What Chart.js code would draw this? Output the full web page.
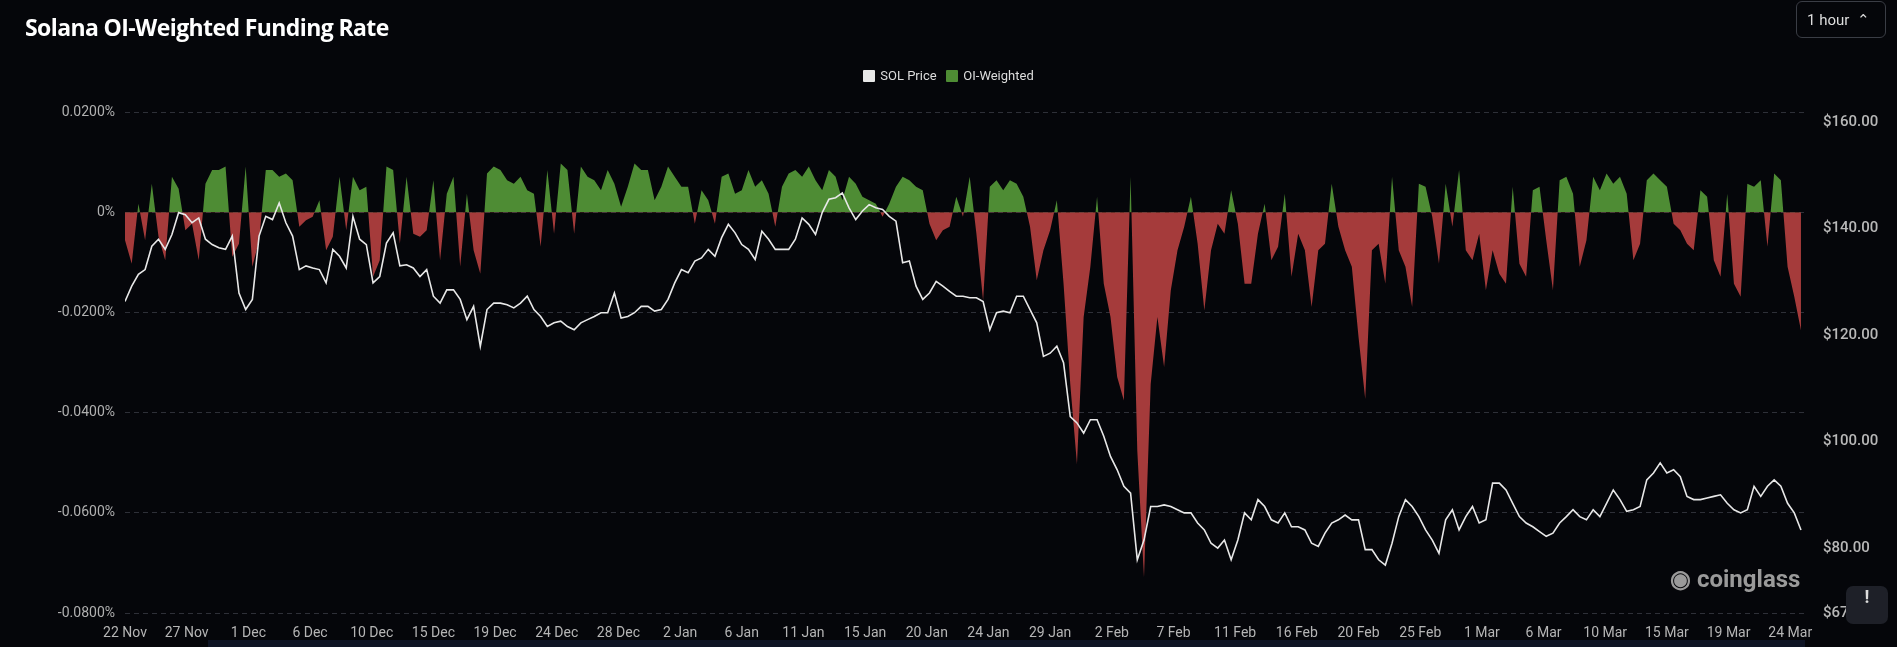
<!DOCTYPE html>
<html><head><meta charset="utf-8">
<script src="https://cdn.jsdelivr.net/npm/chart.js@4/dist/chart.umd.min.js"></script>
<style>
html,body{margin:0;padding:0;background:#05060a;width:1897px;height:647px;overflow:hidden;font-family:Roboto,sans-serif}
#wrap{position:absolute;left:0;top:0;width:1897px;height:647px}
#title{position:absolute;left:25px;top:11px;color:#fff;font:bold 23px 'Open Sans',sans-serif;letter-spacing:-0.6px}
#legend{position:absolute;top:68px;left:0;width:1897px;text-align:center;color:#ddd;font:13px Roboto,sans-serif}
#legend span.b{display:inline-block;width:12px;height:12px;vertical-align:-2px;margin-right:5px;border-radius:1px}
#sel{position:absolute;left:1796px;top:1px;width:90px;height:37px;border:1px solid #3a3d45;border-radius:6px;color:#ddd;font:15px Roboto,sans-serif;line-height:37px;box-sizing:border-box;padding-left:10px}
#wm{position:absolute;left:1670px;top:565px;color:#9a9a9a;font:bold 24px Roboto,sans-serif}
#btn{position:absolute;left:1846px;top:586px;width:42px;height:38px;background:#1e2028;border-radius:7px;color:#ddd;text-align:center;line-height:38px;font:bold 18px Roboto,sans-serif}
#bar{position:absolute;left:208px;top:640px;width:1597px;height:7px;background:#0e1424}
</style></head><body>
<div id="wrap"><canvas id="c" width="1897" height="647"></canvas></div>
<div id="title">Solana OI-Weighted Funding Rate</div>
<div id="legend"><span class="b" style="background:#e8e8e8"></span>SOL Price&nbsp;&nbsp;&nbsp;<span class="b" style="background:#4e8c34"></span>OI-Weighted</div>
<div id="sel">1 hour &nbsp;⌃</div>
<div id="wm">&#9673; coinglass</div>
<div id="btn">!</div>
<div id="bar"></div>
<script>
const stepDays = 0.5;
const tickSpacingDays = 4.6;
const tickLabels = ['22 Nov','27 Nov','1 Dec','6 Dec','10 Dec','15 Dec','19 Dec','24 Dec','28 Dec','2 Jan','6 Jan','11 Jan','15 Jan','20 Jan','24 Jan','29 Jan','2 Feb','7 Feb','11 Feb','16 Feb','20 Feb','25 Feb','1 Mar','6 Mar','10 Mar','15 Mar','19 Mar','24 Mar'];
const priceTicks = [67.8,80,100,120,140,160];
const fundingTicks = [0.02,0,-0.02,-0.04,-0.06,-0.08];
const solPrice = [
126.3,129.2,131.4,132.3,136.7,138,136.1,138.9,143,142.6,
141.1,142,138,137,136.4,136.1,138.6,127.9,124.8,126.7,
138.6,142.3,141.7,144.8,141.1,138.6,132.3,133,132.6,132.3,
129.8,136.1,134.8,132.6,142.3,138,137,129.8,131,137.3,
139.2,133,133.2,132.6,131,132.3,127.3,126,128.5,128.5,
126.7,122.9,125.4,117.9,124.8,126,126,125.7,125.1,126,
127.3,124.8,123.5,121.6,122.3,122.6,121.6,121,122.3,122.9,
123.5,124.2,124.2,127.9,123.2,123.5,124.2,125.4,125.4,124.5,
124.8,126.7,129.8,132.3,
131.7,133.9,134.5,136.1,134.8,138.3,140.8,139.2,137,136.1,
134.2,139.5,138,136.1,136.1,136.1,138,142,140.8,138.9,
143,145.5,145.8,146.7,143.9,141.7,143.3,144.5,143.9,143.6,
142.3,141.4,133.6,133.9,129.2,126.7,127.9,130.1,129.2,128.2,
127.3,127.3,127,127,126.3,121,124.2,124.5,124.2,127.3,
127.3,124.8,122.3,116,116.6,117.9,114.8,104.7,103.5,101.6,
104.1,104.1,101,97.2,94.7,91.6,90.3,77.8,81.5,87.8,
87.8,88.1,87.8,87.2,86.6,86.6,84.7,83.4,80.9,80,
81.5,77.8,81.5,86.6,
85.3,89.1,87.8,85.3,84.7,86.6,84,84,83.4,80.9,
80.3,82.8,84.7,85.3,86.2,85.3,85.3,79.7,79.7,77.8,
76.8,80.9,85.9,89.1,87.8,85.9,83.4,81.5,79,85.3,
87.2,83.4,85.9,87.8,84.7,85.3,92.2,92.2,90.9,88.4,
85.9,84.7,84,83.1,82.2,82.8,84.7,85.9,87.2,85.9,
85.3,87.2,85.9,88.4,90.9,89.1,86.9,87.2,87.8,92.8,
94.1,96,94.1,94.7,93.4,89.7,89.1,89.1,89.4,89.7,
90,88.4,87.2,86.6,87.2,91.6,89.7,91.6,92.8,91.6,
88.4,86.6,83.4];
const oiWeighted = [
-.0056,-.0103,.0017,-.0056,.0057,-.0049,-.0096,.0071,.0047,-.0036,
-.0023,-.0096,.0057,.0084,.0084,.0091,-.0089,-.0063,.0091,-.0109,
-.0056,.0084,.0084,.0071,.0077,.0064,-.0029,-.0016,-.0009,.0024,
-.0076,-.0049,.0071,-.0036,.0071,.0044,.0051,-.0129,-.0096,.0091,
.0084,-.0063,.0071,-.0043,-.0049,-.0036,.0064,-.0096,.0037,.0071,
-.0109,.0037,-.0076,-.0123,.0077,.0091,.0084,.0064,.0057,.0071,
.0044,.0037,-.0069,.0084,-.0043,.0097,.0084,-.0043,.0091,.0071,
.0064,.0044,.0084,.0057,.0011,.0051,.0097,.0084,.0084,.0024,
.0051,.0091,.0071,.0051,
.0051,-.0023,.0044,.0024,-.0023,.0071,.0077,.0037,.0044,.0084,
.0051,.0064,.0037,-.0029,.0051,.0077,.0084,.0071,.0091,.0064,
.0044,.0084,.0071,.0024,.0071,.0057,.0031,.0024,.0017,-.0009,
.0017,.0051,.0071,.0064,.0051,.0044,-.0023,-.0056,-.0036,-.0029,
.0031,-.0009,.0071,-.0043,-.0176,.0051,.0064,.0044,.0064,.0057,
.0031,-.0029,-.0136,-.0076,-.0036,.0024,-.0143,-.0343,-.0503,-.0209,
-.0109,.0031,-.0143,-.0209,-.0329,-.0376,.0071,-.0476,-.0729,-.0343,
-.0209,-.0309,-.0156,-.0076,-.0029,.0031,-.0063,-.0196,-.0076,-.0023,
-.0043,.0044,-.0023,-.0143,
-.0143,-.0043,.0017,-.0096,-.0069,.0037,-.0129,-.0043,-.0076,-.0189,
-.0076,-.0063,.0057,-.0029,-.0076,-.0109,-.0249,-.0373,-.0076,-.0063,
-.0143,.0071,-.0076,-.0109,-.0189,.0057,.0051,-.0009,-.0103,.0057,
-.0029,.0084,-.0076,-.0096,-.0043,-.0156,-.0076,-.0123,-.0143,.0051,
-.0103,-.0129,.0044,.0051,-.0056,-.0156,.0064,.0071,.0037,-.0109,
-.0056,.0071,.0044,.0077,.0057,.0071,.0037,-.0096,-.0063,.0064,
.0077,.0064,.0051,-.0023,-.0036,-.0063,-.0076,.0044,.0031,-.0096,
-.0129,.0037,-.0143,-.0169,.0057,.0051,.0064,-.0069,.0077,.0064,
-.0109,-.0169,-.0236];

const priceData = solPrice.map((v,i)=>({x:i*stepDays,y:v}));
const fundData = oiWeighted.map((v,i)=>({x:i*stepDays,y:v}));
const tickPos = tickLabels.map((l,i)=>i*tickSpacingDays);

new Chart(document.getElementById('c'),{
  type:'line',
  data:{datasets:[
    {label:'SOL Price',data:priceData,yAxisID:'y1',borderColor:'#e8e8e8',borderWidth:1.6,pointRadius:0,fill:false,order:0,tension:0},
    {label:'OI-Weighted',data:fundData,yAxisID:'y',borderWidth:0,borderColor:'rgba(0,0,0,0)',pointRadius:0,order:1,tension:0,
     fill:{target:'origin',above:'#4e8c34',below:'#a53b3b'}}
  ]},
  options:{
    responsive:false,animation:false,
    layout:{padding:{top:112,bottom:0,left:0,right:0}},
    plugins:{legend:{display:false},tooltip:{enabled:false}},
    scales:{
      x:{type:'linear',min:0,max:125.3,
        afterBuildTicks:a=>{a.ticks=tickPos.map(v=>({value:v}));},
        afterFit:s=>{s.height=34;},
        ticks:{autoSkip:false,maxRotation:0,color:'#b5b5b5',font:{family:"Roboto,sans-serif",size:14},padding:4,
          callback:(v,i)=>tickLabels[i]},
        grid:{display:false},border:{display:false}},
      y:{position:'left',min:-0.08,max:0.02,
        afterBuildTicks:a=>{a.ticks=fundingTicks.map(v=>({value:v}));},
        afterFit:s=>{s.width=125;},
        ticks:{color:'#b0b0b0',font:{family:"Roboto,sans-serif",size:14},padding:10,
          callback:v=>Math.abs(v)<1e-9?'0%':v.toFixed(4)+'%'},
        grid:{color:'#2e3038',lineWidth:1,drawTicks:false},
        border:{display:false,dash:[5,4]}},
      y1:{position:'right',min:67.8,max:161.9,
        afterBuildTicks:a=>{a.ticks=priceTicks.map(v=>({value:v}));},
        afterFit:s=>{s.width=92;},
        ticks:{color:'#b8b8b8',font:{family:'Roboto,sans-serif',size:15,weight:'500'},padding:10,
          callback:v=>'$'+v.toFixed(2)},
        grid:{display:false},border:{display:false}}
    }
  }
});
</script>
</body></html>
